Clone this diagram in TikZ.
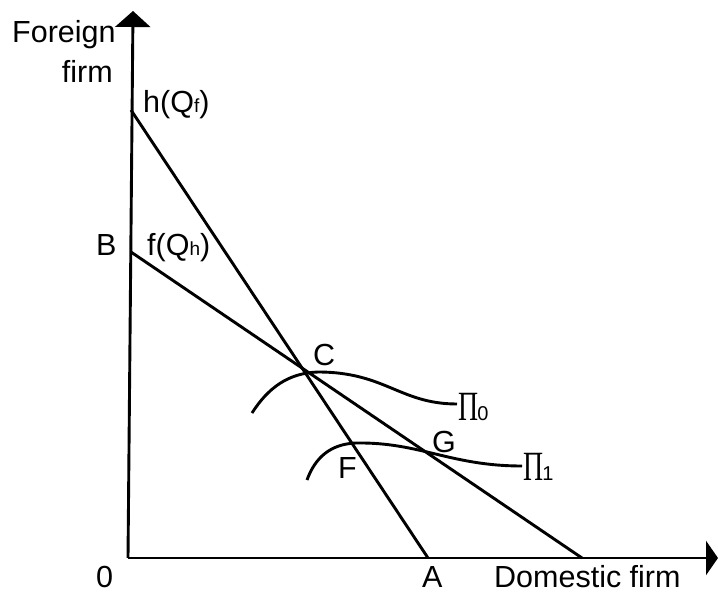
\documentclass[tikz,border=0pt]{standalone}
\usepackage{fontspec}
\setmainfont{Liberation Sans}
\newfontfamily\grfont{Liberation Serif}
\usetikzlibrary{arrows.meta}
\newcommand{\bigPi}{{\grfont\fontsize{32}{32}\selectfont\scalebox{0.87}[1.3]{Π}}}
\begin{document}
\begin{tikzpicture}[x=1pt,y=-1pt,
  lbl/.style={font=\fontsize{30.5}{32}\selectfont, inner sep=0pt},
  ln/.style={line width=2.9pt},
  yaxis/.style={line width=2.9pt,-{Triangle[width=35pt,length=16pt]}},
  xaxis/.style={line width=2.9pt,-{Triangle[width=34pt,length=12pt]}}]
\useasboundingbox (0,0) rectangle (718,594);
\coordinate (O) at (128,558);
\coordinate (Ytop) at (133,11);
\coordinate (Xend) at (718,558);
\coordinate (HQ) at (131,110);
\coordinate (Bpt) at (131,252);
\coordinate (Apt) at (428,558);
\coordinate (Fend) at (582,558);
\draw[yaxis] (O) -- (Ytop);
\draw[xaxis] (O) -- (Xend);
\draw[ln] (HQ) -- (Apt);
\draw[ln] (Bpt) -- (Fend);
\coordinate (P0s) at (252,413);
\coordinate (P0e) at (457,404);
\coordinate (P1s) at (307,480);
\coordinate (P1e) at (522,466);
\draw[ln] (P0s) .. controls (268,388) and (288,373) .. (318,372) .. controls (385,372) and (400,404) .. (P0e);
\draw[ln] (P1s) .. controls (315,458) and (330,444) .. (356,443) .. controls (420,442) and (450,466) .. (P1e);
\node[lbl, anchor=base west] (lfor) at (12,43) {Foreign};
\node[lbl, anchor=base east] (lfirm) at (113,83) {firm};
\node[lbl, anchor=base west] (lh) at (143,112) {h(Q{\fontsize{19}{19}\selectfont f})};
\node[lbl, anchor=base west] (lB) at (96,255) {B};
\node[lbl, anchor=base west] (lf) at (147,255) {f(Q{\fontsize{19}{19}\selectfont h})};
\node[lbl, anchor=base west] (lC) at (313,365) {C};
\node[lbl, anchor=base west] (lG) at (432,452) {G};
\node[lbl, anchor=base west] (lF) at (338,478) {F};
\node[lbl, anchor=base west] (lP0) at (458,420) {\bigPi\kern-1pt{\fontsize{20}{20}\selectfont 0}};
\node[lbl, anchor=base west] (lP1) at (523,480) {\bigPi\kern-1pt{\fontsize{20}{20}\selectfont 1}};
\node[lbl, anchor=base west] (l0) at (96,587) {0};
\node[lbl, anchor=base west] (lA) at (422,587) {A};
\node[lbl, anchor=base west] (ldom) at (494,587) {Domestic firm};
\end{tikzpicture}
\end{document}
